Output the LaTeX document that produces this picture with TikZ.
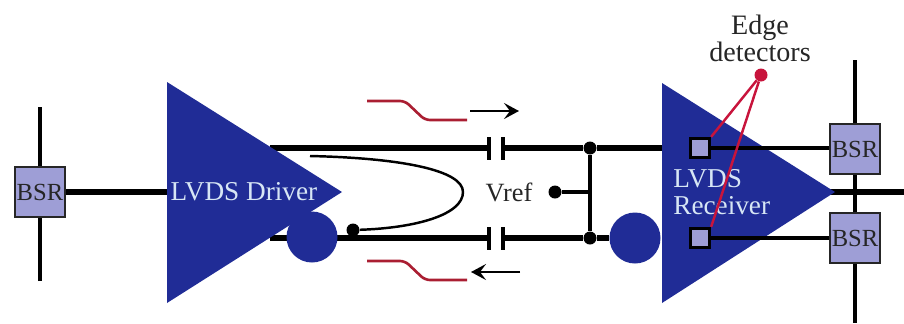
\documentclass[tikz,border=0pt]{standalone}
\usepackage{fontspec}
\setmainfont{Liberation Serif}
\usetikzlibrary{arrows.meta,positioning,shapes.geometric}
\definecolor{ampblue}{RGB}{32,44,150}
\definecolor{bsrfill}{RGB}{158,158,214}
\definecolor{edgered}{RGB}{200,20,60}
\definecolor{wavered}{RGB}{170,30,50}
\definecolor{textpale}{RGB}{215,230,245}

\begin{document}
\begin{tikzpicture}[
    x=0.2mm, y=-0.2mm,
    bsr/.style={
        rectangle, draw=black!85, line width=1.5pt, fill=bsrfill,
        minimum width=10mm, minimum height=10mm, inner sep=0pt,
        font=\fontsize{14}{15}\selectfont, text=black!85
    },
    pad/.style={
        rectangle, draw, line width=1.6pt, fill=bsrfill,
        minimum width=3.9mm, minimum height=3.9mm, inner sep=0pt
    },
    bubble/.style={circle, fill=ampblue, minimum size=10.2mm, inner sep=0pt},
    junction/.style={circle, fill=black, minimum size=2.6mm, inner sep=0pt},
    plate/.style={rectangle, fill=black, minimum width=0.7mm, minimum height=4.6mm, inner sep=0pt},
    thickwire/.style={line width=3.6pt},
    thinwire/.style={line width=1.8pt},
    caption/.style={align=center, text=black!85, font=\fontsize{16}{15.5}\selectfont},
    ampname/.style={align=left, text=textpale, font=\fontsize{15.5}{15.5}\selectfont, inner sep=0pt},
    waveform/.style={wavered, line width=1.5pt, rounded corners=1mm},
    arrow/.style={-{Stealth[length=3mm, width=3.2mm, inset=1.2mm]}, line width=1.4pt},
    pointer/.style={edgered, line width=1.4pt}
]
\useasboundingbox (0,0) rectangle (904,323);

% Corners of the amplifiers
\coordinate (drvtop) at (167,82);
\coordinate (drvbot) at (167,303);
\coordinate (drvtip) at (342,192);
\coordinate (rcvtop) at (662,83);
\coordinate (rcvbot) at (662,303);
\coordinate (rcvtip) at (835,192);

% Free wire ends
\coordinate (drvin) at (167,192);
\coordinate (drvhi) at (270,148);
\coordinate (drvlo) at (270,238);
\coordinate (rcvhi) at (662,148);
\coordinate (rcvout) at (820,192);
\coordinate (leftup) at (40,107);
\coordinate (leftdn) at (40,281);
\coordinate (rightup) at (855,60);
\coordinate (rightdn) at (855,323);
\coordinate (outend) at (904,192);
\coordinate (curvestart) at (310,156);
\coordinate (vreftap) at (590,192);

% Scan cells
\node[bsr] (bsrleft) at (40,192) {BSR};
\node[bsr] (bsrhi) at (855,149) {BSR};
\node[bsr] (bsrlo) at (855,238) {BSR};

% Capacitors
\node[plate] (caphil) at (489,148) {};
\node[plate] (caphir) at (503,148) {};
\node[plate] (caplol) at (489,238) {};
\node[plate] (caplor) at (503,238) {};

% Junctions
\node[junction] (junchi) at (590,148) {};
\node[junction] (junclo) at (590,238) {};
\node[junction] (vrefdot) at (555,192) {};
\node[junction] (curvedot) at (353,230) {};

% Wires
\draw[thinwire] (leftup) -- (bsrleft);
\draw[thinwire] (leftdn) -- (bsrleft);
\draw[thinwire] (rightup) -- (bsrhi);
\draw[thinwire] (bsrhi) -- (bsrlo);
\draw[thinwire] (bsrlo) -- (rightdn);
\draw[thickwire] (bsrleft) -- (drvin);
\draw[thickwire] (drvhi) -- (caphil);
\draw[thickwire] (caphir) -- (junchi);
\draw[thickwire] (junchi) -- (rcvhi);
\draw[thickwire] (drvlo) -- (caplol);
\draw[thickwire] (caplor) -- (junclo);
\draw[thickwire] (rcvout) -- (outend);
\draw[thinwire] (junchi) -- (junclo);
\draw[thinwire] (vrefdot) -- (vreftap);

% Amplifiers
\fill[ampblue] (drvtop) -- (drvtip) -- (drvbot) -- cycle;
\fill[ampblue] (rcvtop) -- (rcvtip) -- (rcvbot) -- cycle;
\node[bubble] (drvbubble) at (312,237) {};
\node[bubble] (rcvbubble) at (635,238) {};
\draw[thickwire] (junclo) -- (rcvbubble);
\node[ampname] (drvname) at (244,192) {LVDS Driver};
\node[ampname, anchor=west] (rcvname) at (673,192) {LVDS\\Receiver};

% Termination curve
\draw[line width=1.4pt] (curvestart) .. controls (400,158) and (463,170) .. (463,192)
    .. controls (463,215) and (415,228) .. (curvedot);

% Edge detectors
\node[pad] (padhi) at (700,148) {};
\node[pad] (padlo) at (700,238) {};
\draw[thinwire] (padhi) -- (padhi -| bsrhi.west);
\draw[thinwire] (padlo) -- (bsrlo);
\node[circle, fill=edgered, minimum size=2.6mm, inner sep=0pt] (edgedot) at (761,75) {};
\draw[pointer] (edgedot) -- (padhi.north east);
\draw[pointer] (edgedot) -- (padlo.north east);
\node[caption] (edgelabel) at (760,38) {Edge\\detectors};
\node[caption, font=\fontsize{15}{15.5}\selectfont] (vreflabel) at (509,192) {Vref};

% Waveforms and direction arrows
\draw[waveform] (367,101) -- (405,101) -- (425,120) -- (467,120);
\draw[waveform] (367,261) -- (405,261) -- (425,280) -- (467,280);
\coordinate (arrhia) at (470,111);
\coordinate (arrhib) at (519,111);
\coordinate (arrloa) at (520,272);
\coordinate (arrlob) at (471,272);
\draw[arrow] (arrhia) -- (arrhib);
\draw[arrow] (arrloa) -- (arrlob);

\end{tikzpicture}
\end{document}
